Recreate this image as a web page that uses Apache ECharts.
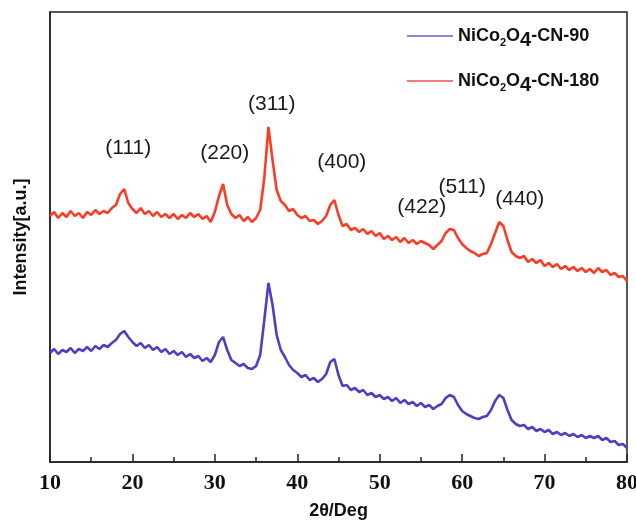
<!DOCTYPE html>
<html>
<head>
<meta charset="utf-8">
<script src="https://cdn.jsdelivr.net/npm/echarts@6/dist/echarts.min.js"></script>
<style>
  html, body { margin: 0; padding: 0; background: #fff; }
  #xrdChart { width: 636px; height: 523px; }
</style>
</head>
<body>
<div id="xrdChart"></div>
<script>
// 2theta grid (deg), 0.5 step
var twoTheta = [];
for (var d = 10; d <= 80.001; d += 0.5) twoTheta.push(+d.toFixed(1));

// NiCo2O4-CN-180 (offset upper trace), arbitrary units
var cn180 = [
  250, 254, 248, 253, 249, 255, 250, 253, 248, 254,
  251, 256, 252, 255, 253, 258, 261, 272, 277, 263,
  257, 253, 258, 252, 255, 250, 254, 249, 252, 248,
  252, 247, 251, 248, 253, 249, 252, 247, 250, 244,
  254, 270, 282, 261, 252, 248, 251, 245, 249, 244,
  248, 256, 288, 339, 306, 276, 265, 261, 255, 257,
  251, 248, 250, 245, 246, 242, 245, 250, 261, 266,
  251, 240, 242, 236, 238, 234, 237, 232, 235, 230,
  233, 227, 230, 226, 229, 224, 228, 223, 226, 222,
  225, 223, 221, 217, 221, 225, 233, 237, 236, 228,
  222, 218, 215, 213, 210, 212, 213, 222, 233, 244,
  240, 226, 214, 210, 208, 210, 204, 207, 203, 206,
  200, 203, 199, 202, 197, 200, 196, 199, 195, 198,
  194, 197, 193, 198, 194, 196, 191, 193, 189, 190,
  185
];

// NiCo2O4-CN-90 (lower trace)
var cn90 = [
  113, 117, 112, 116, 114, 118, 113, 117, 115, 119,
  115, 120, 117, 121, 119, 123, 126, 132, 135, 129,
  124, 120, 123, 118, 121, 116, 119, 114, 117, 112,
  115, 111, 114, 109, 112, 108, 110, 105, 108, 104,
  111, 124, 129, 116, 106, 103, 100, 102, 98, 97,
  100, 111, 146, 183, 161, 131, 116, 109, 101, 96,
  93, 89, 91, 86, 88, 84, 87, 92, 104, 107,
  91, 80, 81, 76, 78, 74, 76, 71, 73, 69,
  71, 67, 69, 65, 68, 63, 66, 62, 64, 60,
  63, 59, 61, 57, 60, 62, 68, 71, 69, 61,
  55, 52, 50, 48, 47, 49, 50, 56, 65, 71,
  68, 56, 46, 42, 40, 41, 37, 39, 35, 37,
  34, 36, 32, 34, 31, 33, 30, 32, 29, 31,
  28, 30, 28, 30, 26, 28, 24, 25, 21, 22,
  18
];

// reflection labels and where they sit (deg, a.u.)
var hklText = ['(111)', '(220)', '(311)', '(400)', '(422)', '(511)', '(440)'];
var hklX = [19.5, 31.2, 36.9, 45.4, 55.1, 60.0, 67.0];
var hklY = [318, 313, 362, 304, 259, 279, 267];

var xTicks = [10, 20, 30, 40, 50, 60, 70, 80];

function pairs(ys) {
  return ys.map(function (v, i) { return [twoTheta[i], v]; });
}

var chart = echarts.init(document.getElementById('xrdChart'), null, { renderer: 'canvas' });

var legendRich = {
  n: { fontFamily: 'Liberation Sans', fontWeight: 'bold', fontSize: 18, color: '#111' },
  s: { fontFamily: 'Liberation Sans', fontWeight: 'bold', fontSize: 11, color: '#111', padding: [13, 0, 0, 0] },
  f: { fontFamily: 'Liberation Sans', fontWeight: 'bold', fontSize: 20, color: '#111', padding: [8, 0, 0, 0] }
};

chart.setOption({
  animation: false,
  backgroundColor: '#fff',
  grid: {
    left: 50, right: 9, top: 12, bottom: 61,
    outerBoundsMode: 'none',
    containLabel: false,
    show: true, borderColor: '#222', borderWidth: 1.5
  },
  legend: {
    orient: 'vertical',
    left: 402,
    top: 22,
    itemWidth: 46,
    itemHeight: 1.5,
    itemGap: 22,
    icon: 'rect',
    data: ['NiCo2O4-CN-90', 'NiCo2O4-CN-180'],
    formatter: function (name) {
      return '{n|NiCo}{s|2}{n|O}{f|4}{n|' + name.slice(7) + '}';
    },
    textStyle: { rich: legendRich }
  },
  xAxis: {
    type: 'value',
    min: 10, max: 80, interval: 10,
    name: '2θ/Deg',
    nameLocation: 'middle',
    nameGap: 40,
    nameTextStyle: { fontFamily: 'Liberation Sans', fontWeight: 'bold', fontSize: 18, color: '#111' },
    axisLine: { lineStyle: { color: '#222', width: 1.5 } },
    axisTick: { inside: true, length: 8, lineStyle: { color: '#222', width: 1.5 } },
    minorTick: { show: true, splitNumber: 2, length: 5, lineStyle: { color: '#222', width: 1.5 } },
    splitLine: { show: false },
    axisLabel: {
      margin: 10,
      hideOverlap: false,
      fontFamily: 'Liberation Serif', fontWeight: 'bold', fontSize: 22, color: '#111',
      formatter: function (v) { return xTicks.indexOf(v) >= 0 ? String(v) : ''; }
    }
  },
  yAxis: {
    type: 'value',
    min: 4, max: 454,
    name: 'Intensity[a.u.]',
    nameLocation: 'middle',
    nameGap: 20,
    nameTextStyle: { fontFamily: 'Liberation Sans', fontWeight: 'bold', fontSize: 18, color: '#111' },
    axisLine: { show: true, lineStyle: { color: '#222', width: 1.5 } },
    axisTick: { show: false },
    axisLabel: { show: false },
    splitLine: { show: false }
  },
  series: [
    {
      name: 'NiCo2O4-CN-90',
      type: 'line',
      symbol: 'none',
      data: pairs(cn90),
      lineStyle: { color: '#4f3fc2', width: 2.6 },
      itemStyle: { color: '#6a5fd4' }
    },
    {
      name: 'NiCo2O4-CN-180',
      type: 'line',
      symbol: 'none',
      data: pairs(cn180),
      lineStyle: { color: '#fb3d27', width: 2.6 },
      itemStyle: { color: '#f25454' },
      markPoint: {
        symbol: 'circle',
        symbolSize: 0,
        silent: true,
        label: {
          show: true,
          position: 'inside',
          fontFamily: 'Liberation Sans',
          fontSize: 21,
          color: '#1a1a1a',
          formatter: function (p) { return p.name; }
        },
        data: hklText.map(function (t, i) {
          return { name: t, coord: [hklX[i], hklY[i]] };
        })
      }
    }
  ]
});
</script>
</body>
</html>
